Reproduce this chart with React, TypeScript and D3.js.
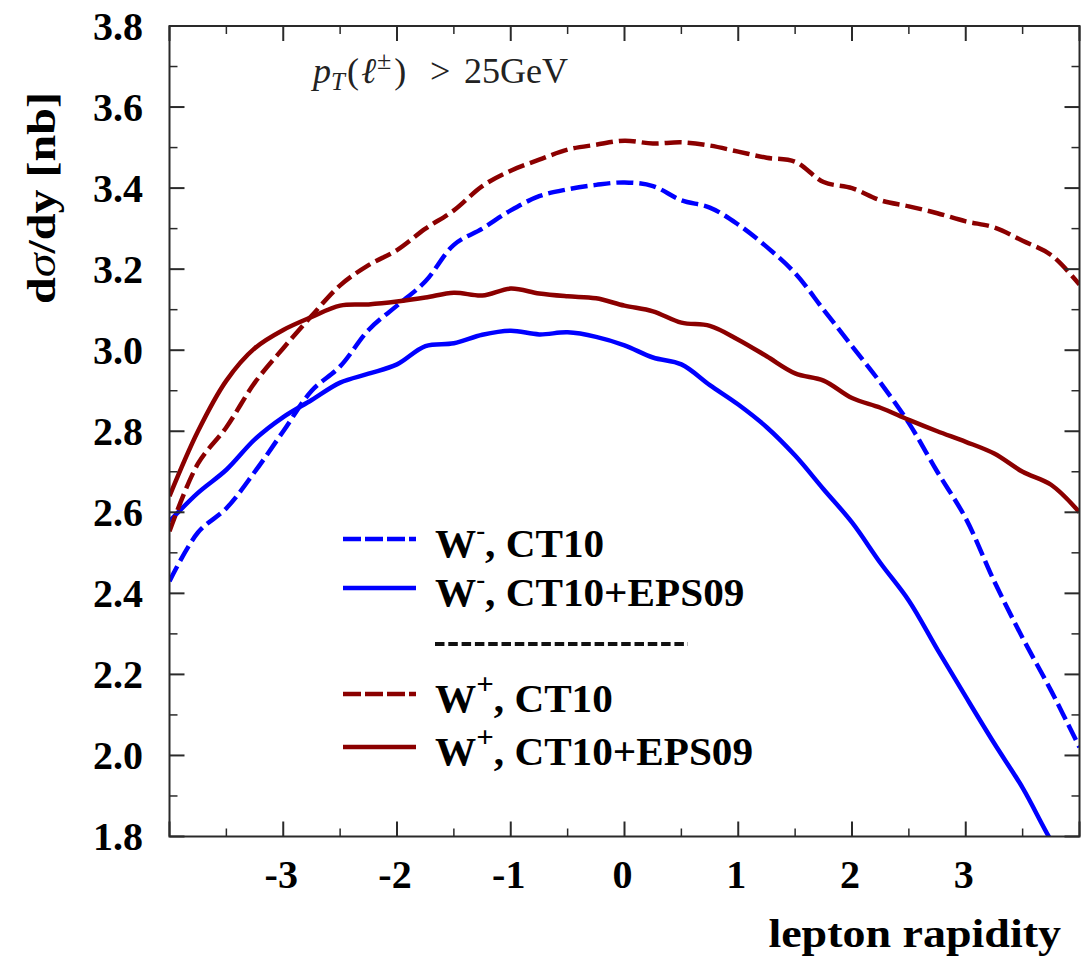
import * as d3 from "d3";

const W = 1083;
const H = 967;
const PLOT = {left: 169.5, right: 1079.5, top: 26, bottom: 836.5};

// lepton rapidity grid
const rapidity = [
  -4.0, -3.75, -3.5, -3.25, -3.0, -2.75, -2.5, -2.25, -2.0, -1.75, -1.5, -1.25, -1.0, -0.75, -0.5, -0.25,
  0.0, 0.25, 0.5, 0.75, 1.0, 1.25, 1.5, 1.75, 2.0, 2.25, 2.5, 2.75, 3.0, 3.25, 3.5, 3.75, 4.0,
];

const wMinusCT10 = [
  2.43, 2.55, 2.61, 2.7, 2.8, 2.9, 2.96, 3.05, 3.11, 3.17, 3.26, 3.3, 3.345, 3.38, 3.397, 3.408,
  3.414, 3.405, 3.37, 3.352, 3.31, 3.255, 3.19, 3.1, 3.01, 2.92, 2.82, 2.7, 2.585, 2.43, 2.29, 2.16, 2.02,
];
const wMinusEPS09 = [
  2.578, 2.648, 2.705, 2.78, 2.835, 2.877, 2.92, 2.942, 2.965, 3.01, 3.017, 3.038, 3.048, 3.039, 3.044, 3.033,
  3.012, 2.982, 2.965, 2.914, 2.866, 2.81, 2.74, 2.657, 2.575, 2.475, 2.382, 2.262, 2.145, 2.03, 1.92, 1.79, 1.68,
];
const wPlusCT10 = [
  2.553, 2.72, 2.81, 2.92, 3.005, 3.085, 3.16, 3.21, 3.247, 3.3, 3.345, 3.405, 3.443, 3.47, 3.495, 3.507,
  3.517, 3.51, 3.513, 3.505, 3.49, 3.475, 3.465, 3.415, 3.4, 3.37, 3.355, 3.338, 3.318, 3.303, 3.27, 3.235, 3.162,
];
const wPlusEPS09 = [
  2.64, 2.8, 2.925, 3.005, 3.05, 3.082, 3.11, 3.113, 3.12, 3.13, 3.142, 3.135, 3.152, 3.14, 3.133, 3.128,
  3.11, 3.096, 3.068, 3.06, 3.026, 2.985, 2.943, 2.925, 2.882, 2.858, 2.828, 2.8, 2.774, 2.745, 2.7, 2.668, 2.6,
];

const xTickLabels = [-3, -2, -1, 0, 1, 2, 3];
const yTickLabels = [1.8, 2.0, 2.2, 2.4, 2.6, 2.8, 3.0, 3.2, 3.4, 3.6, 3.8];

const BLUE = "#0000ff";
const RED = "#8b0000";
const DASH = "17,6";

const series = [
  {name: "wm_ct10", values: wMinusCT10, color: BLUE, dash: DASH},
  {name: "wm_eps", values: wMinusEPS09, color: BLUE, dash: null},
  {name: "wp_ct10", values: wPlusCT10, color: RED, dash: DASH},
  {name: "wp_eps", values: wPlusEPS09, color: RED, dash: null},
];

const FONT = "'Liberation Serif', 'Times New Roman', serif";

export default function App() {
  const x = d3.scaleLinear().domain([-4, 4]).range([PLOT.left, PLOT.right]);
  const y = d3.scaleLinear().domain([1.8, 3.8]).range([PLOT.bottom, PLOT.top]);

  const line = d3
    .line<number>()
    .x((_, i) => x(rapidity[i]))
    .y((d) => y(d))
    .curve(d3.curveCatmullRom.alpha(0.5));

  const xMajor = d3.range(-4, 4.001, 1);
  const xMinor = d3.range(-3.5, 4, 1);
  const yMajor = yTickLabels;
  const yMinor = d3.range(1.9, 3.8, 0.2);

  const axisColor = "#2a2a2a";

  // legend rows (baseline y)
  const legend = [
    {base: 557, color: BLUE, dash: DASH, sup: "-", text: ", CT10"},
    {base: 606, color: BLUE, dash: null, sup: "-", text: ", CT10+EPS09"},
    {base: 712, color: RED, dash: DASH, sup: "+", text: ", CT10"},
    {base: 765, color: RED, dash: null, sup: "+", text: ", CT10+EPS09"},
  ];

  return (
    <svg
      width={W}
      height={H}
      style={{position: "absolute", left: 0, top: 0, background: "#fff"}}
      fontFamily={FONT}
    >
      <defs>
        <clipPath id="plot-clip">
          <rect x={PLOT.left} y={PLOT.top} width={PLOT.right - PLOT.left} height={PLOT.bottom - PLOT.top} />
        </clipPath>
      </defs>

      {/* curves */}
      <g clipPath="url(#plot-clip)">
        {series.map((s) => (
          <path
            key={s.name}
            d={line(s.values) || ""}
            fill="none"
            stroke={s.color}
            strokeWidth={4.5}
            strokeDasharray={s.dash || undefined}
            strokeLinejoin="round"
          />
        ))}
      </g>

      {/* frame */}
      <rect
        x={PLOT.left}
        y={PLOT.top}
        width={PLOT.right - PLOT.left}
        height={PLOT.bottom - PLOT.top}
        fill="none"
        stroke={axisColor}
        strokeWidth={2}
      />

      {/* x ticks, top and bottom */}
      {xMajor.map((v) => (
        <g key={"xM" + v} stroke={axisColor} strokeWidth={2}>
          <line x1={x(v)} x2={x(v)} y1={PLOT.bottom} y2={PLOT.bottom - 15} />
          <line x1={x(v)} x2={x(v)} y1={PLOT.top} y2={PLOT.top + 15} />
        </g>
      ))}
      {xMinor.map((v) => (
        <g key={"xm" + v} stroke={axisColor} strokeWidth={1.5}>
          <line x1={x(v)} x2={x(v)} y1={PLOT.bottom} y2={PLOT.bottom - 8} />
          <line x1={x(v)} x2={x(v)} y1={PLOT.top} y2={PLOT.top + 8} />
        </g>
      ))}

      {/* y ticks, left and right */}
      {yMajor.map((v) => (
        <g key={"yM" + v} stroke={axisColor} strokeWidth={2}>
          <line x1={PLOT.left} x2={PLOT.left + 15} y1={y(v)} y2={y(v)} />
          <line x1={PLOT.right} x2={PLOT.right - 15} y1={y(v)} y2={y(v)} />
        </g>
      ))}
      {yMinor.map((v) => (
        <g key={"ym" + v} stroke={axisColor} strokeWidth={1.5}>
          <line x1={PLOT.left} x2={PLOT.left + 8} y1={y(v)} y2={y(v)} />
          <line x1={PLOT.right} x2={PLOT.right - 8} y1={y(v)} y2={y(v)} />
        </g>
      ))}

      {/* tick labels */}
      {yTickLabels.map((v) => (
        <text
          key={"yl" + v}
          x={143}
          y={y(v) + 13.5}
          textAnchor="end"
          fontSize={40}
          fontWeight="bold"
        >
          {v.toFixed(1)}
        </text>
      ))}
      {xTickLabels.map((v) => (
        <text key={"xl" + v} x={x(v) - 2} y={888} textAnchor="middle" fontSize={40} fontWeight="bold">
          {v}
        </text>
      ))}

      {/* axis titles */}
      <g transform="translate(55,198) rotate(-90) scale(1.2,1)">
        <text textAnchor="middle" fontSize={40} fontWeight="bold">
          d<tspan fontStyle="italic" fontWeight="normal">σ</tspan>/dy [nb]
        </text>
      </g>
      <g transform="translate(1061,947) scale(1.15,1)">
        <text textAnchor="end" fontSize={40} fontWeight="bold">
          lepton rapidity
        </text>
      </g>

      {/* annotation */}
      <text y={83} fontSize={36} fill="#222">
        <tspan x={313} fontStyle="italic">p</tspan>
        <tspan fontStyle="italic" fontSize={25} dy={7}>T</tspan>
        <tspan dy={-7} dx={2}>(</tspan>
        <tspan fontStyle="italic" dx={2}>ℓ</tspan>
        <tspan fontSize={26} dy={-14} dx={1}>±</tspan>
        <tspan dy={14} dx={3}>)</tspan>
        <tspan x={430}>&gt;</tspan>
        <tspan x={464}>25GeV</tspan>
      </text>

      {/* legend */}
      {legend.map((r, i) => (
        <g key={"lg" + i}>
          <line
            x1={343}
            x2={416}
            y1={r.base - 18}
            y2={r.base - 18}
            stroke={r.color}
            strokeWidth={4.5}
            strokeDasharray={r.dash ? "18,4" : undefined}
          />
          <g transform={`translate(435,${r.base}) scale(1.03,1)`}>
            <text fontSize={40} fontWeight="bold">
              W
              <tspan fontSize={r.sup === "+" ? 30 : 26} dy={-18}>{r.sup}</tspan>
              <tspan dy={18}>{r.text}</tspan>
            </text>
          </g>
        </g>
      ))}
      <line x1={435} x2={688} y1={644} y2={644} stroke="#111" strokeWidth={4} strokeDasharray="9.5,3.8" />
    </svg>
  );
}
